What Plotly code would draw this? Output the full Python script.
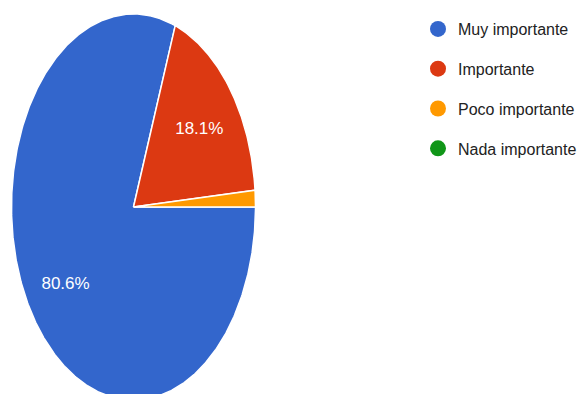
import numpy as np
import plotly.graph_objects as go

labels = ["Muy importante", "Importante", "Poco importante", "Nada importante"]
counts = [58, 13, 1, 0]
colors = ["#3366cc", "#dc3912", "#ff9900", "#109618"]

START_DEG = 90.0      # first slice starts at 3 o'clock, clockwise
LABEL_R = 0.68
FONT = "Liberation Sans, Arial, sans-serif"

W, H = 581, 394
CX, CY, RX, RY = 133.5, 207.0, 122.0, 193.0  # pixel geometry of the pie

total = float(sum(counts))
fig = go.Figure()

a0 = START_DEG
lab_x, lab_y, lab_t = [], [], []
for lab, c, col in zip(labels, counts, colors):
    frac = c / total
    deg = frac * 360.0
    a1 = a0 + deg
    if c > 0:
        n = max(3, int(deg * 2))
        th = np.radians(np.linspace(a0, a1, n))
        xs = np.concatenate([[0.0], np.sin(th), [0.0]])
        ys = np.concatenate([[0.0], np.cos(th), [0.0]])
        fig.add_trace(go.Scatter(
            x=xs, y=ys, mode="lines", fill="toself", fillcolor=col,
            line=dict(color="white", width=1.5), showlegend=False,
            hoverinfo="text", text=f"{lab}: {c} ({frac*100:.1f}%)",
        ))
        if frac * 100 >= 5:
            mid = np.radians((a0 + a1) / 2)
            lab_x.append(LABEL_R * np.sin(mid))
            lab_y.append(LABEL_R * np.cos(mid) - 0.015)
            lab_t.append(f"{frac*100:.1f}%")
    a0 = a1

fig.add_trace(go.Scatter(
    x=lab_x, y=lab_y, mode="text", text=lab_t,
    textfont=dict(color="white", size=17, family=FONT),
    showlegend=False, hoverinfo="skip",
))

for i, (lab, col) in enumerate(zip(labels, colors)):
    fig.add_trace(go.Scatter(
        x=[None], y=[None], mode="markers", name=lab,
        marker=dict(color=col, size=16, symbol="circle"),
        legendgroup=f"g{i}",
    ))

x0 = -CX / RX
x1 = x0 + W / RX
y1 = CY / RY
y0 = y1 - H / RY

fig.update_layout(
    width=W, height=H,
    margin=dict(l=0, r=0, t=0, b=0, autoexpand=False),
    paper_bgcolor="white", plot_bgcolor="white",
    xaxis=dict(range=[x0, x1], visible=False, fixedrange=True),
    yaxis=dict(range=[y0, y1], visible=False, fixedrange=True),
    legend=dict(
        x=418 / W, y=1 - 12 / H, xanchor="left", yanchor="top",
        font=dict(family=FONT, size=16, color="#222222"),
        tracegroupgap=16, itemclick=False, bgcolor="rgba(0,0,0,0)",
    ),
    showlegend=True,
)

fig.write_html(
    "out.html",
    config={"displayModeBar": False},
    post_script="document.body.style.margin='0';document.body.style.overflow='hidden';",
)
